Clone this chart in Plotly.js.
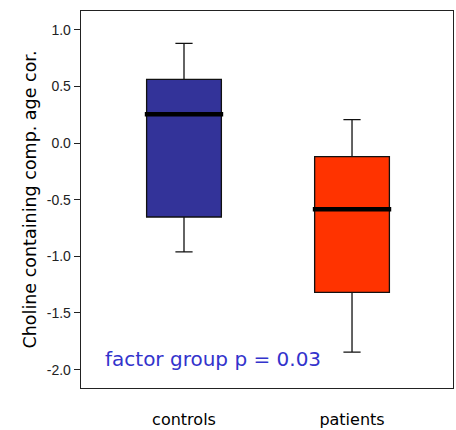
<!DOCTYPE html>
<html>
<head>
<meta charset="utf-8">
<script src="https://cdn.plot.ly/plotly-3.0.1.min.js"></script>
<style>html,body{margin:0;padding:0;background:#fff;}#chart{width:456px;height:430px;}</style>
</head>
<body>
<div id="chart"></div>
<script>
var categories = ["controls", "patients"];
var lowerWhisker = [-0.96, -1.845];
var q1Values = [-0.653, -1.318];
var medians = [0.253, -0.585];
var q3Values = [0.562, -0.121];
var upperWhisker = [0.88, 0.206];
var boxColors = ["#333399", "#FF3300"];
var yTickVals = [1.0, 0.5, 0.0, -0.5, -1.0, -1.5, -2.0];
var yTickText = ["1.0", "0.5", "0.0", "-0.5", "-1.0", "-1.5", "-2.0"];
var yTitle = "Choline containing comp. age cor.";
var noteText = "factor group p = 0.03";

var traces = categories.map(function (c, i) {
  return {
    type: "box",
    x: [c],
    q1: [q1Values[i]],
    median: [medians[i]],
    q3: [q3Values[i]],
    lowerfence: [lowerWhisker[i]],
    upperfence: [upperWhisker[i]],
    fillcolor: boxColors[i],
    line: { color: "#111", width: 1.3 },
    width: 0.445,
    whiskerwidth: 0.23,
    boxpoints: false,
    showlegend: false,
    hoverinfo: "skip"
  };
});
traces.push({
  type: "scatter",
  mode: "markers",
  x: categories,
  y: medians,
  marker: { symbol: "line-ew", size: 56, color: "#000", line: { color: "#000", width: 4.5 } },
  showlegend: false,
  hoverinfo: "skip"
});

var layout = {
  width: 456,
  height: 430,
  margin: { l: 81, r: 3, t: 11, b: 42 },
  paper_bgcolor: "#fff",
  plot_bgcolor: "#fff",
  showlegend: false,
  xaxis: {
    type: "category",
    range: [-0.613, 1.601],
    showgrid: false,
    zeroline: false,
    showline: true,
    mirror: true,
    linecolor: "#222",
    linewidth: 1.3,
    ticks: "",
    ticklabelstandoff: 16,
    tickfont: { family: "DejaVu Sans", size: 16, color: "#000" }
  },
  yaxis: {
    range: [-2.162, 1.165],
    showgrid: false,
    zeroline: false,
    showline: true,
    mirror: true,
    linecolor: "#222",
    linewidth: 1.3,
    ticks: "outside",
    ticklen: 6,
    tickcolor: "#222",
    tickvals: yTickVals,
    ticktext: yTickText,
    tickfont: { family: "Liberation Sans, Arial", size: 14, color: "#222" },
    title: { text: yTitle, standoff: 5, font: { family: "DejaVu Sans", size: 17.5, color: "#000" } }
  },
  annotations: [{
    text: noteText,
    xref: "paper", yref: "paper",
    x: 0.058, y: 0.078,
    xanchor: "left", yanchor: "middle",
    showarrow: false,
    font: { family: "DejaVu Sans", size: 20, color: "#3333CC" }
  }]
};

Plotly.newPlot("chart", traces, layout, { displayModeBar: false, staticPlot: true });
</script>
</body>
</html>
